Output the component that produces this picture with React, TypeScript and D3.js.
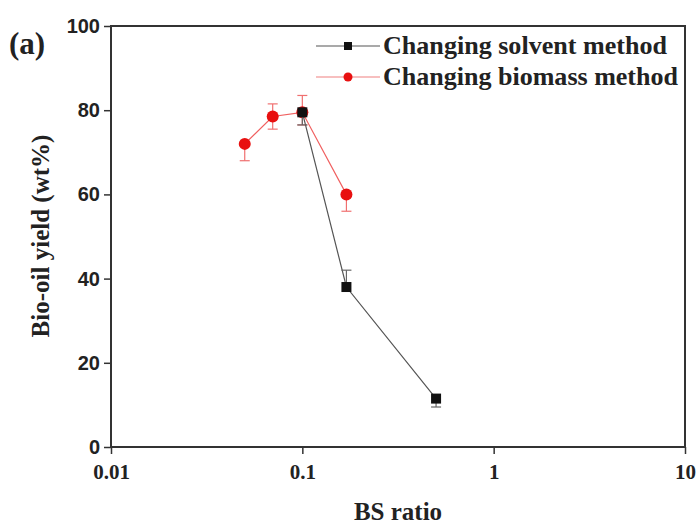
import React, { useEffect, useRef } from "react";
import * as d3 from "d3";

// Changing solvent method
const solventX = [0.1, 0.17, 0.5];
const solventY = [79.5, 38, 11.5];
const solventErrUp = [0, 4, 0];
const solventErrDown = [3, 0, 2];

// Changing biomass method
const biomassX = [0.05, 0.07, 0.1, 0.17];
const biomassY = [72, 78.5, 79.5, 60];
const biomassErrUp = [0, 3, 4, 0];
const biomassErrDown = [4, 3, 3, 4];

const xTicks = [0.01, 0.1, 1, 10];
const xTickLabels = ["0.01", "0.1", "1", "10"];
const yTicks = [0, 20, 40, 60, 80, 100];

const seriesNames = ["Changing solvent method", "Changing biomass method"];

export default function App() {
  const ref = useRef<SVGSVGElement>(null);

  useEffect(() => {
    const svg = d3.select(ref.current);
    svg.selectAll("*").remove();

    const left = 111, right = 685, top = 26, bottom = 447;
    const x = d3.scaleLog().domain([0.01, 10]).range([left, right]);
    const y = d3.scaleLinear().domain([0, 100]).range([bottom, top]);
    const serif = "'Liberation Serif', 'Times New Roman', serif";
    const sans = "'Liberation Sans', Arial, sans-serif";

    // frame
    svg.append("rect")
      .attr("x", left).attr("y", top)
      .attr("width", right - left).attr("height", bottom - top)
      .attr("fill", "none").attr("stroke", "#333").attr("stroke-width", 2);

    // y axis
    const yAxis = svg.append("g").attr("transform", `translate(${left},0)`)
      .call(d3.axisLeft(y).tickValues(yTicks).tickSize(7).tickPadding(4));
    yAxis.select(".domain").remove();
    yAxis.selectAll("line").attr("stroke", "#333").attr("stroke-width", 1.5);
    yAxis.selectAll("text")
      .attr("font-family", sans).attr("font-weight", "bold")
      .attr("font-size", 20).attr("fill", "#222");

    // x axis
    const xAxis = svg.append("g").attr("transform", `translate(0,${bottom})`)
      .call(d3.axisBottom(x).tickValues(xTicks)
        .tickFormat((d, i) => xTickLabels[i]).tickSize(7).tickPadding(10));
    xAxis.select(".domain").remove();
    xAxis.selectAll("line").attr("stroke", "#333").attr("stroke-width", 1.5);
    xAxis.selectAll("text")
      .attr("font-family", serif).attr("font-weight", "bold")
      .attr("font-size", 21).attr("fill", "#222");

    // axis titles
    svg.append("text")
      .attr("x", 398).attr("y", 520)
      .attr("text-anchor", "middle")
      .attr("font-family", serif).attr("font-weight", "bold").attr("font-size", 25)
      .attr("fill", "#222").text("BS ratio");
    svg.append("text")
      .attr("transform", `translate(49,236) rotate(-90)`)
      .attr("text-anchor", "middle")
      .attr("font-family", serif).attr("font-weight", "bold").attr("font-size", 25)
      .attr("fill", "#222").text("Bio-oil yield (wt%)");
    svg.append("text")
      .attr("x", 9).attr("y", 54)
      .attr("font-family", serif).attr("font-weight", "bold").attr("font-size", 31)
      .attr("fill", "#222").text("(a)");

    const line = d3.line<[number, number]>().x(d => x(d[0])).y(d => y(d[1]));

    // error bars helper
    function errorBars(xs: number[], ys: number[], up: number[], down: number[], color: string) {
      xs.forEach((xv, i) => {
        const cx = x(xv);
        const hi = ys[i] + up[i], lo = ys[i] - down[i];
        svg.append("line").attr("x1", cx).attr("x2", cx)
          .attr("y1", y(hi)).attr("y2", y(lo))
          .attr("stroke", color).attr("stroke-width", 1.2);
        if (up[i] > 0) svg.append("line").attr("x1", cx - 5).attr("x2", cx + 5)
          .attr("y1", y(hi)).attr("y2", y(hi)).attr("stroke", color).attr("stroke-width", 1.2);
        if (down[i] > 0) svg.append("line").attr("x1", cx - 5).attr("x2", cx + 5)
          .attr("y1", y(lo)).attr("y2", y(lo)).attr("stroke", color).attr("stroke-width", 1.2);
      });
    }

    // biomass series (red)
    svg.append("path")
      .attr("d", line(biomassX.map((v, i) => [v, biomassY[i]]) as [number, number][]))
      .attr("fill", "none").attr("stroke", "#f06060").attr("stroke-width", 1.2);
    errorBars(biomassX, biomassY, biomassErrUp, biomassErrDown, "#f07070");
    svg.selectAll(".bm").data(biomassX).enter().append("circle")
      .attr("cx", d => x(d)).attr("cy", (d, i) => y(biomassY[i]))
      .attr("r", 6).attr("fill", "#e81010");

    // solvent series (black)
    svg.append("path")
      .attr("d", line(solventX.map((v, i) => [v, solventY[i]]) as [number, number][]))
      .attr("fill", "none").attr("stroke", "#555").attr("stroke-width", 1.2);
    errorBars(solventX, solventY, solventErrUp, solventErrDown, "#666");
    svg.selectAll(".sv").data(solventX).enter().append("rect")
      .attr("x", d => x(d) - 5).attr("y", (d, i) => y(solventY[i]) - 5)
      .attr("width", 10).attr("height", 10).attr("fill", "#111");

    // legend
    const lg = svg.append("g");
    seriesNames.forEach((name, i) => {
      const ly = 46 + i * 31;
      const color = i === 0 ? "#555" : "#f08080";
      lg.append("line").attr("x1", 316).attr("x2", 380).attr("y1", ly).attr("y2", ly)
        .attr("stroke", color).attr("stroke-width", 1.2);
      if (i === 0) {
        lg.append("rect").attr("x", 344).attr("y", ly - 4).attr("width", 8).attr("height", 8).attr("fill", "#111");
      } else {
        lg.append("circle").attr("cx", 348).attr("cy", ly).attr("r", 4.5).attr("fill", "#e81010");
      }
      lg.append("text").attr("x", 383).attr("y", ly + 8)
        .attr("font-family", serif).attr("font-weight", "bold").attr("font-size", 25)
        .attr("textLength", i === 0 ? 284 : 295).attr("lengthAdjust", "spacingAndGlyphs")
        .attr("fill", "#222").text(name);
    });
  }, []);

  return <svg ref={ref} width={697} height={527} style={{ position: "absolute", left: 0, top: 0 }} />;
}
